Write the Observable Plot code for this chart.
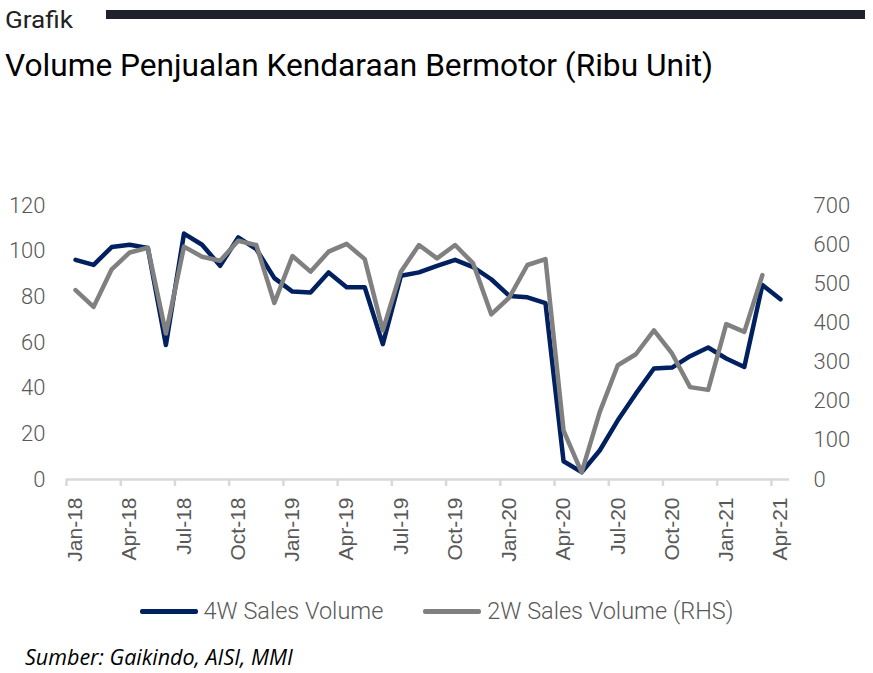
<!DOCTYPE html>
<html><head><meta charset="utf-8">
<script src="https://cdn.jsdelivr.net/npm/d3@7"></script>
<script src="https://cdn.jsdelivr.net/npm/@observablehq/plot@0.6"></script>
<style>
body{margin:0;background:#fff;width:873px;height:673px;position:relative;overflow:hidden;font-family:Roboto,sans-serif;}
#head{position:absolute;left:0;top:0;}
#chart{position:absolute;left:0;top:180px;}
#legend{position:absolute;top:597px;left:0;width:873px;display:flex;justify-content:center;align-items:center;font-family:Roboto;font-weight:300;font-size:23.5px;color:#595959;}
#legend .item{display:flex;align-items:center;margin:0 20px;}
#legend .sw{width:58px;height:5px;border-radius:2px;margin-right:6px;}
#caption{position:absolute;left:25px;top:642px;font-family:"Open Sans";font-style:italic;font-size:21.5px;color:#000;}
</style></head>
<body>
<svg id="head" width="873" height="100">
  <text x="5" y="28" font-family="Roboto" font-size="24" fill="#222" textLength="68" lengthAdjust="spacingAndGlyphs">Grafik</text>
  <rect x="106" y="10" width="759" height="9" fill="#1f222d"></rect>
  <text x="5" y="76" font-family="Roboto" font-size="32" fill="#000" textLength="708" lengthAdjust="spacingAndGlyphs">Volume Penjualan Kendaraan Bermotor (Ribu Unit)</text>
</svg>
<div id="chart"></div>
<div id="legend"></div>
<div id="caption">Sumber: Gaikindo, AISI, MMI</div>
<script>
const months = ["Jan-18","Feb-18","Mar-18","Apr-18","May-18","Jun-18","Jul-18","Aug-18","Sep-18","Oct-18","Nov-18","Dec-18",
"Jan-19","Feb-19","Mar-19","Apr-19","May-19","Jun-19","Jul-19","Aug-19","Sep-19","Oct-19","Nov-19","Dec-19",
"Jan-20","Feb-20","Mar-20","Apr-20","May-20","Jun-20","Jul-20","Aug-20","Sep-20","Oct-20","Nov-20","Dec-20",
"Jan-21","Feb-21","Mar-21","Apr-21"];
const tickLabels = ["Jan-18","Apr-18","Jul-18","Oct-18","Jan-19","Apr-19","Jul-19","Oct-19","Jan-20","Apr-20","Jul-20","Oct-20","Jan-21","Apr-21"];
const sales4w = [96.2,94,101.8,102.8,101.4,58.9,107.7,102.8,93.6,106,100.9,88.2,82.3,81.9,90.7,84.2,84.2,59.3,89.2,90.7,93.6,96.2,93,87.7,80.4,79.8,77.2,8,3.2,12.7,25.9,37.6,48.6,49,54,57.8,53,49.3,85.2,78.9];
const sales2w = [484,441,537,580,592,373,595,569,559,610,599,451,571,531,582,602,563,381,531,599,565,599,552,422,465,548,563,125,18,172,292,320,381,322,236,229,397,377,522];
const leftTicks = [0,20,40,60,80,100,120];
const rightTicks = [0,100,200,300,400,500,600,700];
const leftMax = 120, rightMax = 700;
const series = [
  {name:"4W Sales Volume", color:"#002060"},
  {name:"2W Sales Volume (RHS)", color:"#808080"}
];

const toLeft = v => v * leftMax / rightMax;
const d4 = sales4w.map((v,i)=>({i, v}));
const d2 = sales2w.map((v,i)=>({i, v: toLeft(v)}));
const labelIdx = tickLabels.map(t => months.indexOf(t));
const boundaries = labelIdx.map(i => i - 0.5);

const chart = Plot.plot({
  width: 873, height: 400,
  marginTop: 25, marginBottom: 101, marginLeft: 66, marginRight: 84,
  x: {type: "linear", domain: [-0.5, months.length - 0.5]},
  y: {domain: [0, leftMax]},
  style: {fontFamily: "Roboto", background: "#fff", overflow: "visible"},
  marks: [
    Plot.ruleY([0], {stroke: "#d9d9d9", strokeWidth: 2.5}),
    Plot.axisX({ticks: boundaries, tickFormat: () => "", tickSize: 7, stroke: "#d9d9d9", strokeWidth: 2.5, label: null}),
    Plot.axisX({ticks: labelIdx, tickFormat: i => months[i], tickSize: 0, tickPadding: 18, tickRotate: -90,
      fontSize: 21, fontFamily: "Liberation Sans", fill: "#595959", label: null}),
    Plot.axisY({anchor: "left", ticks: leftTicks, tickSize: 0, tickPadding: 21, fontSize: 22, fontWeight: 300, fill: "#595959", label: null}),
    Plot.axisY({anchor: "right", ticks: rightTicks.map(toLeft), tickFormat: d => String(Math.round(d * rightMax / leftMax)),
      tickSize: 0, tickPadding: 24, fontSize: 22, fontWeight: 300, fill: "#595959", label: null}),
    Plot.line(d4, {x: "i", y: "v", stroke: series[0].color, strokeWidth: 4.5, strokeLinejoin: "round"}),
    Plot.line(d2, {x: "i", y: "v", stroke: series[1].color, strokeWidth: 4.5, strokeLinejoin: "round"})
  ]
});
document.getElementById("chart").appendChild(chart);

const legend = d3.select("#legend");
series.forEach(s => {
  const it = legend.append("div").attr("class", "item");
  it.append("div").attr("class", "sw").style("background", s.color);
  it.append("span").text(s.name);
});
</script>
</body></html>
